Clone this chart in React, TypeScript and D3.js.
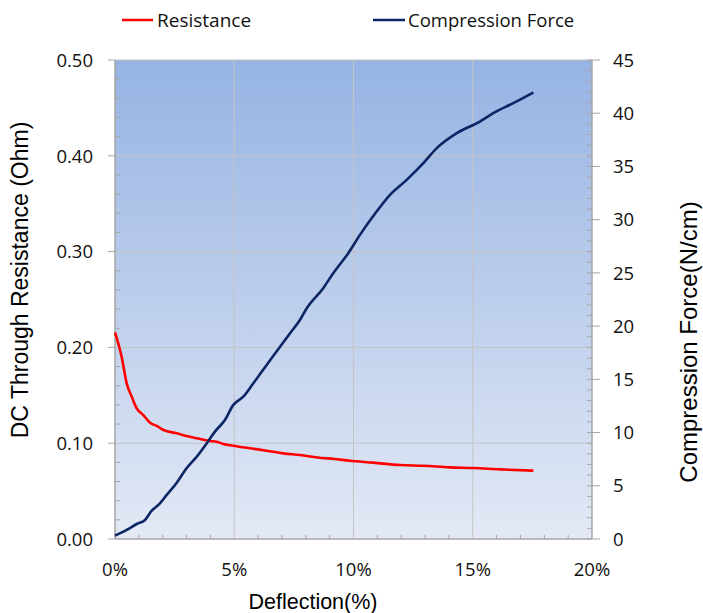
import React from 'react';
import * as d3 from 'd3';

// deflection (%) vs DC through resistance (Ohm)
const resDeflection = [0, 0.28, 0.49, 0.7, 0.91, 1.19, 1.47, 1.75, 2.03, 2.59, 3.0, 3.43, 3.98, 4.26, 4.54, 4.96, 5.66, 6.36, 7.06, 7.76, 8.5, 9.2, 9.85, 10.83, 11.95, 12.93, 14.05, 15.03, 16.14, 17.54];
const resistance = [0.2157, 0.19, 0.1625, 0.1486, 0.1364, 0.1294, 0.1214, 0.118, 0.1138, 0.1103, 0.1075, 0.1051, 0.1023, 0.1016, 0.0992, 0.0974, 0.0947, 0.0922, 0.0894, 0.0877, 0.085, 0.0835, 0.0817, 0.0797, 0.0772, 0.0765, 0.0748, 0.0741, 0.0727, 0.0713];

// deflection (%) vs compression force (N/cm)
const forceDeflection = [0, 0.49, 0.91, 1.26, 1.54, 1.82, 2.17, 2.59, 3.0, 3.43, 3.85, 4.19, 4.61, 4.96, 5.38, 5.8, 6.36, 6.92, 7.34, 7.76, 8.04, 8.73, 9.15, 9.78, 10.27, 10.97, 11.53, 12.23, 12.93, 13.49, 14.33, 15.3, 15.86, 16.7, 17.54];
const force = [0.31, 0.85, 1.41, 1.79, 2.66, 3.2, 4.14, 5.29, 6.64, 7.74, 9.0, 10.09, 11.18, 12.6, 13.37, 14.63, 16.35, 18.07, 19.33, 20.6, 21.68, 23.56, 24.97, 26.85, 28.57, 30.76, 32.33, 33.74, 35.31, 36.72, 38.13, 39.22, 40.0, 40.95, 41.95];

const xTicks = [0, 5, 10, 15, 20];
const leftTicks = [0, 0.1, 0.2, 0.3, 0.4, 0.5];
const rightTicks = [0, 5, 10, 15, 20, 25, 30, 35, 40, 45];

const legendItems = [
  { label: 'Resistance', color: '#ff0000' },
  { label: 'Compression Force', color: '#0b2565' },
];

const W = 703;
const H = 613;
const left = 115;
const right = 592;
const top = 60;
const bottom = 539;

const tickFont = '"Open Sans", Lato, sans-serif';
const titleFont = '"Liberation Sans", Arial, sans-serif';

export default function App() {
  const x = d3.scaleLinear().domain([0, 20]).range([left, right]);
  const yL = d3.scaleLinear().domain([0, 0.5]).range([bottom, top]);
  const yR = d3.scaleLinear().domain([0, 45]).range([bottom, top]);

  const resLine = d3
    .line<number>()
    .x((_, i) => x(resDeflection[i]))
    .y((d) => yL(d))
    .curve(d3.curveMonotoneX);
  const forceLine = d3
    .line<number>()
    .x((_, i) => x(forceDeflection[i]))
    .y((d) => yR(d))
    .curve(d3.curveMonotoneX);

  const xMinor = d3.range(1, 20).filter((v) => v % 5 !== 0);
  const leftMinor = d3.range(1, 25).filter((v) => v % 5 !== 0).map((v) => v * 0.02);
  const rightMinor = d3.range(1, 45).filter((v) => v % 5 !== 0);

  const axisColor = '#a6a6a6';
  const gridColor = '#c4c4c4';

  return (
    <svg width={W} height={H} style={{ position: 'absolute', left: 0, top: 0 }}>
      <defs>
        <linearGradient id="plotBg" x1="0" y1="0" x2="0" y2="1">
          <stop offset="0" stopColor="#96b3e3" />
          <stop offset="1" stopColor="#e3e9f5" />
        </linearGradient>
      </defs>

      {/* legend */}
      <g>
        <line x1={122} x2={153} y1={20} y2={20} stroke={legendItems[0].color} strokeWidth={2.5} />
        <text x={157} y={27} fontFamily={tickFont} fontSize={19} fill="#111">
          {legendItems[0].label}
        </text>
        <line x1={373} x2={405} y1={20} y2={20} stroke={legendItems[1].color} strokeWidth={2.5} />
        <text x={408} y={27} fontFamily={tickFont} fontSize={18.5} fill="#111">
          {legendItems[1].label}
        </text>
      </g>

      <rect x={left} y={top} width={right - left} height={bottom - top} fill="url(#plotBg)" />

      {/* grid */}
      {xTicks.slice(1, -1).map((t) => (
        <line key={'gx' + t} x1={x(t)} x2={x(t)} y1={top} y2={bottom} stroke={gridColor} strokeWidth={1} />
      ))}
      {leftTicks.slice(1).map((t) => (
        <line key={'gy' + t} x1={left} x2={right} y1={yL(t)} y2={yL(t)} stroke={gridColor} strokeWidth={1} />
      ))}

      {/* axes */}
      <line x1={left} x2={left} y1={top} y2={bottom} stroke={axisColor} strokeWidth={1.5} />
      <line x1={right} x2={right} y1={top} y2={bottom} stroke={axisColor} strokeWidth={1.5} />
      <line x1={left} x2={right} y1={bottom} y2={bottom} stroke={axisColor} strokeWidth={1.5} />

      {xMinor.map((t) => (
        <line key={'mx' + t} x1={x(t)} x2={x(t)} y1={bottom} y2={bottom - 4} stroke={axisColor} strokeWidth={1} />
      ))}
      {leftMinor.map((t) => (
        <line key={'ml' + t} x1={left} x2={left + 5} y1={yL(t)} y2={yL(t)} stroke={axisColor} strokeWidth={1} />
      ))}
      {rightMinor.map((t) => (
        <line key={'mr' + t} x1={right - 5} x2={right} y1={yR(t)} y2={yR(t)} stroke={axisColor} strokeWidth={1} />
      ))}
      {leftTicks.map((t) => (
        <line key={'tl' + t} x1={left - 7} x2={left} y1={yL(t)} y2={yL(t)} stroke={axisColor} strokeWidth={1} />
      ))}
      {rightTicks.map((t) => (
        <line key={'tr' + t} x1={right - 5} x2={right + 8} y1={yR(t)} y2={yR(t)} stroke={axisColor} strokeWidth={1} />
      ))}

      {/* tick labels */}
      {leftTicks.map((t) => (
        <text key={'ll' + t} x={93} y={yL(t) + 6.7} textAnchor="end" fontFamily={tickFont} fontSize={18.5} fill="#111">
          {d3.format('.2f')(t)}
        </text>
      ))}
      {rightTicks.map((t) => (
        <text key={'lr' + t} x={613} y={yR(t) + 6.7} fontFamily={tickFont} fontSize={18.5} fill="#111">
          {t}
        </text>
      ))}
      {xTicks.map((t) => (
        <text key={'lx' + t} x={x(t)} y={576} textAnchor="middle" fontFamily={tickFont} fontSize={18.5} fill="#111">
          {t + '%'}
        </text>
      ))}

      {/* axis titles */}
      <text
        transform="translate(28,280) rotate(-90)"
        textAnchor="middle"
        fontFamily={titleFont}
        fontSize={23}
      >
        DC Through Resistance (Ohm)
      </text>
      <text
        transform="translate(697,342) rotate(-90)"
        textAnchor="middle"
        fontFamily={titleFont}
        fontSize={24}
      >
        Compression Force(N/cm)
      </text>
      <text x={313} y={609} textAnchor="middle" fontFamily={titleFont} fontSize={21.5}>
        Deflection(%)
      </text>

      {/* series */}
      <path d={resLine(resistance) ?? ''} fill="none" stroke={legendItems[0].color} strokeWidth={2.6} strokeLinejoin="round" />
      <path d={forceLine(force) ?? ''} fill="none" stroke={legendItems[1].color} strokeWidth={2.6} strokeLinejoin="round" />
    </svg>
  );
}
